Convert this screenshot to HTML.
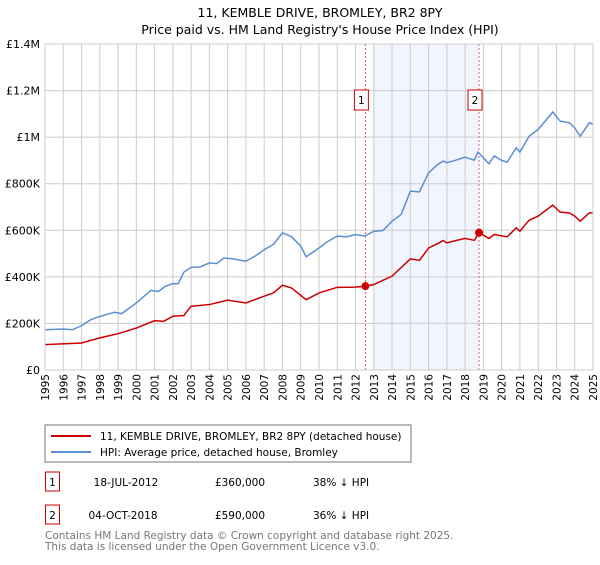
<!DOCTYPE html>
<html><head><meta charset="utf-8"><style>
body{margin:0;background:#fff;font-family:"Liberation Sans","DejaVu Sans",sans-serif;}
svg text{font-family:"DejaVu Sans","Liberation Sans",sans-serif;}
</style></head><body>
<svg width="600" height="560" viewBox="0 0 600 560" xmlns="http://www.w3.org/2000/svg">
<text x="320" y="17" text-anchor="middle" font-size="12.5" fill="#000">11, KEMBLE DRIVE, BROMLEY, BR2 8PY</text>
<text x="320" y="34" text-anchor="middle" font-size="12.5" fill="#000">Price paid vs. HM Land Registry's House Price Index (HPI)</text>
<g id="grid"></g>
<g id="marks"></g>
<g id="axes"></g>
<rect x="45" y="425" width="366" height="37" fill="#fff" stroke="#777"/>
<line x1="51" y1="436" x2="91" y2="436" stroke="#cc0000" stroke-width="2"/>
<text x="100" y="440" font-size="10.5">11, KEMBLE DRIVE, BROMLEY, BR2 8PY (detached house)</text>
<line x1="51" y1="452" x2="91" y2="452" stroke="#5b8fd4" stroke-width="2"/>
<text x="100" y="456" font-size="10.5">HPI: Average price, detached house, Bromley</text>
<g>
<rect x="45.5" y="472" width="14" height="19" fill="none" stroke="#cc0000"/>
<text x="52.5" y="486" text-anchor="middle" font-size="10.5">1</text>
<text x="126" y="486" text-anchor="middle" font-size="10.5">18-JUL-2012</text>
<text x="240" y="486" text-anchor="middle" font-size="10.5">£360,000</text>
<text x="313" y="486" font-size="10.5">38% ↓ HPI</text>
</g>
<g>
<rect x="45.5" y="505" width="14" height="19" fill="none" stroke="#cc0000"/>
<text x="52.5" y="519" text-anchor="middle" font-size="10.5">2</text>
<text x="123" y="519" text-anchor="middle" font-size="10.5">04-OCT-2018</text>
<text x="240" y="519" text-anchor="middle" font-size="10.5">£590,000</text>
<text x="313" y="519" font-size="10.5">36% ↓ HPI</text>
</g>
<text x="45" y="539" font-size="10.5" fill="#777">Contains HM Land Registry data © Crown copyright and database right 2025.</text>
<text x="45" y="550" font-size="10.5" fill="#777">This data is licensed under the Open Government Licence v3.0.</text>
</svg>
<script>
const hpiYears=[1995,1996,1996.5,1997,1997.5,1998,1998.8,1999.2,2000,2000.8,2001.2,2001.6,2002,2002.3,2002.6,2003,2003.5,2004,2004.4,2004.8,2005.3,2006,2006.5,2007,2007.5,2008,2008.5,2009,2009.3,2010,2010.5,2011,2011.5,2012,2012.5,2013,2013.5,2014,2014.5,2015,2015.5,2016,2016.5,2016.8,2017,2017.5,2018,2018.5,2018.7,2019,2019.3,2019.6,2020,2020.3,2020.8,2021,2021.5,2022,2022.8,2023.2,2023.7,2024,2024.3,2024.8,2025];
const hpiValues=[173,176,173,190,216,230,248,242,288,342,337,360,371,371,420,441,443,460,457,481,477,467,489,517,539,589,572,532,486,524,553,575,572,582,575,596,599,639,668,768,765,847,883,897,890,901,914,901,936,911,886,919,900,893,954,936,1004,1033,1108,1069,1062,1040,1004,1062,1055];
const propYears=[1995,1997,1998,1999,2000,2001,2001.5,2002,2002.6,2003,2004,2005,2006,2007,2007.5,2008,2008.5,2009.3,2010,2011,2012,2012.54,2013,2014,2015,2015.5,2016,2016.5,2016.8,2017,2017.5,2018,2018.5,2018.76,2019.3,2019.6,2020.3,2020.8,2021,2021.5,2022,2022.8,2023.2,2023.7,2024,2024.3,2024.8,2025];
const propValues=[109,116,138,156,180,212,209,231,234,274,281,300,288,317,331,364,352,302,331,355,356,360,367,403,477,471,524,543,556,546,556,565,557,590,565,582,572,610,596,643,661,708,678,675,661,639,675,675];
const saleYears=[2012.54,2018.76];
const saleValues=[360,590];
const saleLabels=["1","2"];
const yTicks=[0,200,400,600,800,1000,1200,1400];
const yTickLabels=["£0","£200K","£400K","£600K","£800K","£1M","£1.2M","£1.4M"];
const shadeRange=[2013,2018.76];

const NS="http://www.w3.org/2000/svg";
const X0=45,X1=593,Y0=370,Y1=44;
const xs=y=>X0+(y-1995)/30*(X1-X0);
const ys=v=>Y0-v/1400*(Y0-Y1);
function mk(tag,attrs,parent){const e=document.createElementNS(NS,tag);for(const k in attrs)e.setAttribute(k,attrs[k]);parent.appendChild(e);return e;}
const grid=document.getElementById('grid'),marks=document.getElementById('marks'),axes=document.getElementById('axes');
let sh=mk('rect',{x:xs(shadeRange[0]),y:Y1,width:xs(shadeRange[1])-xs(shadeRange[0]),height:Y0-Y1,fill:'#eef3fc',opacity:0.8},grid);


for(let yr=1995;yr<=2025;yr++){
 let l=mk('line',{x1:xs(yr),x2:xs(yr),y1:Y1,y2:Y0,stroke:'#cccccc','stroke-width':1},grid);
 
 
 let t=mk('text',{x:0,y:0,'font-size':10.5,'text-anchor':'end',transform:`translate(${xs(yr)+4},${Y0+4}) rotate(-90)`},axes);
 t.textContent=yr;
 
 
}
yTicks.forEach((v,i)=>{
 let l=mk('line',{x1:X0,x2:X1,y1:ys(v),y2:ys(v),stroke:'#cccccc','stroke-width':1},grid);
 
 
 let t=mk('text',{x:X0-5,y:ys(v)+4,'font-size':11,'text-anchor':'end'},axes);
 t.textContent=yTickLabels[i];
 
 
});
saleYears.forEach((yr,i)=>{
 let l=mk('line',{x1:xs(yr),x2:xs(yr),y1:Y1,y2:Y0,stroke:'#e06060','stroke-width':1,'stroke-dasharray':'2,2'},marks);
 
 
});
let hp=mk('polyline',{points:hpiYears.map((y,i)=>xs(y)+','+ys(hpiValues[i])).join(' '),fill:'none',stroke:'#5b8fd4','stroke-width':1.5},marks);


let pp=mk('polyline',{points:propYears.map((y,i)=>xs(y)+','+ys(propValues[i])).join(' '),fill:'none',stroke:'#cc0000','stroke-width':1.5},marks);


saleYears.forEach((yr,i)=>{
 let c=mk('circle',{cx:xs(yr),cy:ys(saleValues[i]),r:4,fill:'#cc0000'},marks);
 
 
 let g=mk('g',{},marks);
 
 
 mk('rect',{x:xs(yr)-11,y:90,width:14,height:20,fill:'#fff',stroke:'#cc0000'},g);
 let t=mk('text',{x:xs(yr)-4,y:104,'font-size':10.5,'text-anchor':'middle'},g);
 t.textContent=saleLabels[i];
});
let ax=mk('rect',{x:X0,y:Y1,width:X1-X0,height:Y0-Y1,fill:'none',stroke:'#cccccc'},axes);


</script>
</body></html>
